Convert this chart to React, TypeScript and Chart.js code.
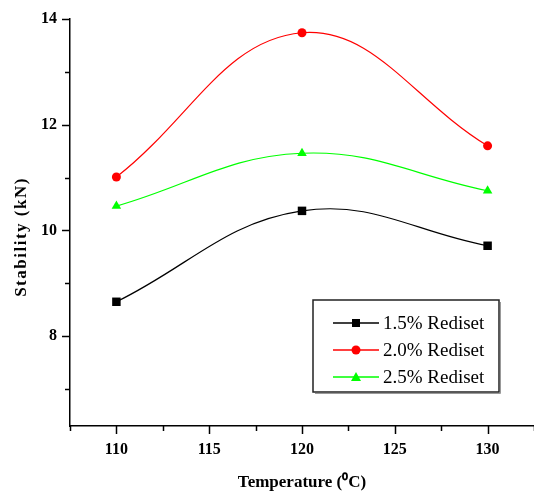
import React, { useEffect, useRef } from 'react';
import { Chart, registerables } from 'chart.js';

Chart.register(...registerables);

const temperatures = [110, 120, 130];
const rediset15 = [8.65, 10.37, 9.71];
const rediset20 = [11.01, 13.74, 11.6];
const rediset25 = [10.46, 11.46, 10.75];
const seriesLabels = ['1.5% Rediset', '2.0% Rediset', '2.5% Rediset'];
const xTickValues = [107.5, 110, 112.5, 115, 117.5, 120, 122.5, 125, 127.5, 130, 132.5];
const yTickValues = [7, 8, 9, 10, 11, 12, 13, 14];
const xTitle = 'Temperature (\u2070C)';
const yTitle = 'Stability (kN)';

const FONT = '"Liberation Serif", "Times New Roman", serif';

const tickMarks = {
  id: 'tickMarks',
  afterDraw(chart: any) {
    const { ctx, chartArea } = chart;
    const x = chart.scales.x;
    const y = chart.scales.y;
    ctx.save();
    ctx.strokeStyle = '#000';
    ctx.lineWidth = 1.5;
    x.ticks.forEach((t: any) => {
      const px = Math.round(x.getPixelForValue(t.value)) + 0.5;
      const major = t.value % 5 === 0;
      ctx.beginPath();
      ctx.moveTo(px, chartArea.bottom);
      ctx.lineTo(px, chartArea.bottom + (major ? 8 : 5));
      ctx.stroke();
    });
    y.ticks.forEach((t: any) => {
      const py = Math.round(y.getPixelForValue(t.value)) + 0.5;
      const major = t.value % 2 === 0;
      ctx.beginPath();
      ctx.moveTo(chartArea.left, py);
      ctx.lineTo(chartArea.left - (major ? 8 : 5), py);
      ctx.stroke();
    });
    // y axis title
    ctx.fillStyle = '#000';
    ctx.font = `bold 17px ${FONT}`;
    (ctx as any).letterSpacing = '1.5px';
    ctx.textAlign = 'center';
    ctx.textBaseline = 'middle';
    ctx.translate(22, 237);
    ctx.rotate(-Math.PI / 2);
    ctx.fillText(yTitle, 0, 0);
    ctx.restore();
  },
};

function drawMarker(ctx: CanvasRenderingContext2D, style: string, cx: number, cy: number, color: string) {
  ctx.fillStyle = color;
  ctx.beginPath();
  if (style === 'rect') {
    ctx.rect(cx - 4, cy - 4, 8, 8);
  } else if (style === 'circle') {
    ctx.arc(cx, cy, 4.5, 0, Math.PI * 2);
  } else {
    ctx.moveTo(cx, cy - 5);
    ctx.lineTo(cx + 5, cy + 4);
    ctx.lineTo(cx - 5, cy + 4);
    ctx.closePath();
  }
  ctx.fill();
}

const boxLegend = {
  id: 'boxLegend',
  afterDraw(chart: any) {
    const { ctx } = chart;
    const bx = 313;
    const by = 300;
    const bw = 186;
    const bh = 92;
    ctx.save();
    ctx.strokeStyle = '#222';
    ctx.lineWidth = 1.5;
    ctx.strokeRect(bx, by, bw, bh);
    ctx.strokeStyle = '#999';
    ctx.lineWidth = 1;
    ctx.beginPath();
    ctx.moveTo(bx + 2, by + bh + 1.5);
    ctx.lineTo(bx + bw + 1.5, by + bh + 1.5);
    ctx.lineTo(bx + bw + 1.5, by + 2);
    ctx.stroke();
    chart.data.datasets.forEach((ds: any, i: number) => {
      const cy = by + 23 + i * 27;
      ctx.strokeStyle = ds.borderColor;
      ctx.lineWidth = 1.5;
      ctx.beginPath();
      ctx.moveTo(bx + 20, cy);
      ctx.lineTo(bx + 66, cy);
      ctx.stroke();
      drawMarker(ctx, ds.pointStyle, bx + 43, cy, ds.borderColor);
      ctx.fillStyle = '#000';
      ctx.font = `19px ${FONT}`;
      ctx.textAlign = 'left';
      ctx.textBaseline = 'middle';
      ctx.fillText(ds.label, bx + 70, cy + 1);
    });
    ctx.restore();
  },
};

function toPoints(vals: number[]) {
  return temperatures.map((t, i) => ({ x: t, y: vals[i] }));
}

export default function App() {
  const ref = useRef<HTMLCanvasElement | null>(null);
  useEffect(() => {
    if (!ref.current) return;
    const colors = ['#000000', '#ff0000', '#00ff00'];
    const styles = ['rect', 'circle', 'triangle'];
    const series = [rediset15, rediset20, rediset25];
    const chart = new Chart(ref.current, {
      type: 'line',
      data: {
        datasets: series.map((s, i) => ({
          label: seriesLabels[i],
          data: toPoints(s),
          borderColor: colors[i],
          backgroundColor: colors[i],
          borderWidth: 1.2,
          pointStyle: styles[i],
          pointRadius: styles[i] === 'rect' ? 6 : styles[i] === 'circle' ? 4.5 : 5.5,
          pointBorderWidth: 0,
          tension: 0.4,
          fill: false,
        })),
      },
      options: {
        animation: false,
        responsive: false,
        devicePixelRatio: 1,
        layout: { padding: { top: 19, right: 3, left: 0, bottom: 0 } },
        plugins: {
          legend: { display: false },
          tooltip: { enabled: false },
        },
        scales: {
          x: {
            type: 'linear',
            min: 107.5,
            max: 132.5,
            afterBuildTicks: (scale: any) => {
              scale.ticks = xTickValues.map((v) => ({ value: v }));
            },
            afterFit: (scale: any) => {
              scale.height = 71;
              scale.paddingLeft = 0;
              scale.paddingRight = 0;
            },
            grid: { display: false },
            border: { display: true, color: '#000', width: 1.5 },
            ticks: {
              autoSkip: false,
              maxRotation: 0,
              padding: 6,
              color: '#000',
              font: { family: FONT, size: 16, weight: 'bold' },
              callback: (v: any) => (Number(v) % 5 === 0 ? String(v) : ''),
            },
            title: {
              display: true,
              text: xTitle,
              color: '#000',
              font: { family: FONT, size: 17, weight: 'bold' },
              padding: { top: 0, bottom: 4 },
            },
          },
          y: {
            type: 'linear',
            min: 6.3,
            max: 14,
            afterBuildTicks: (scale: any) => {
              scale.ticks = yTickValues.map((v) => ({ value: v }));
            },
            afterFit: (scale: any) => {
              scale.width = 70;
              scale.paddingTop = 0;
              scale.paddingBottom = 0;
            },
            grid: { display: false },
            border: { display: true, color: '#000', width: 1.5 },
            ticks: {
              autoSkip: false,
              padding: 5,
              color: '#000',
              font: { family: FONT, size: 16, weight: 'bold' },
              callback: (v: any) => (Number(v) % 2 === 0 ? String(v) : ''),
            },
          },
        },
      },
      plugins: [tickMarks, boxLegend],
    } as any);
    return () => chart.destroy();
  }, []);
  return (
    <div style={{ position: 'absolute', left: 0, top: 0, width: 534, height: 497, overflow: 'hidden', background: '#fff' }}>
      <canvas ref={ref} width={540} height={497} style={{ width: 540, height: 497, display: 'block' }} />
    </div>
  );
}
